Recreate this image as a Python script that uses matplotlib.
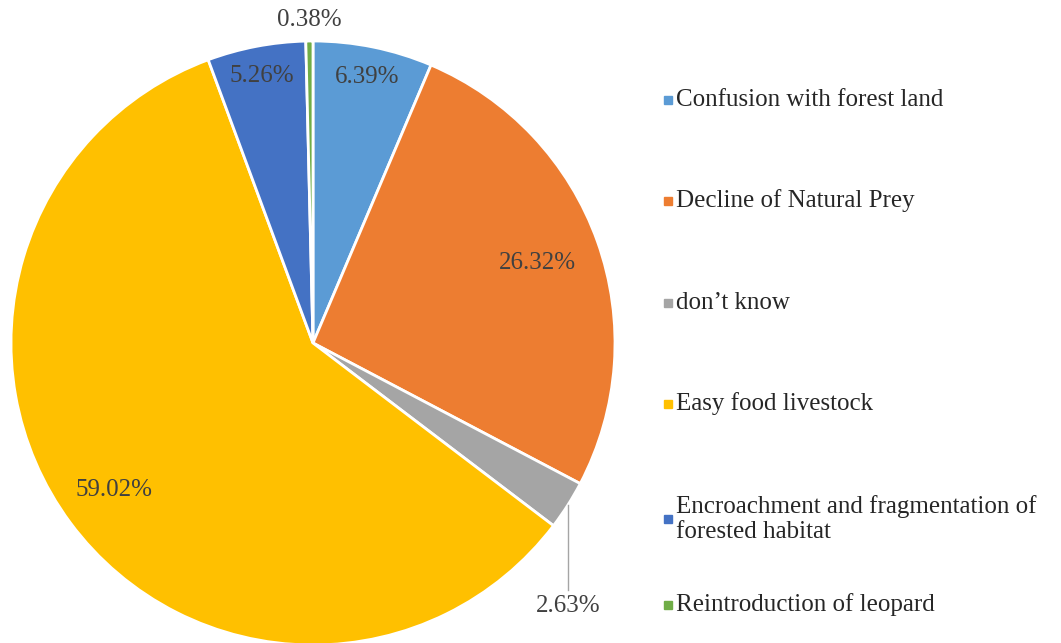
import numpy as np
import matplotlib.pyplot as plt

categories = ['Confusion with forest land', 'Decline of Natural Prey', 'don\u2019t know',
              'Easy food livestock', 'Encroachment and fragmentation of\nforested habitat',
              'Reintroduction of leopard']
shares = [6.39, 26.32, 2.63, 59.02, 5.26, 0.38]
colors = ['#5B9BD5', '#ED7D31', '#A5A5A5', '#FFC000', '#4472C4', '#70AD47']

plt.rcParams['font.family'] = ['Liberation Serif', 'DejaVu Serif']

fig = plt.figure(figsize=(10.61, 6.43), dpi=100)
ax = fig.add_axes([0, 0, 1, 1])

cx, cy, rad = 313, 643 - 343, 302
wedges, _ = ax.pie(shares, colors=colors, startangle=90, counterclock=False,
                   center=(cx, cy), radius=rad,
                   wedgeprops=dict(edgecolor='white', linewidth=2))
ax.set_xlim(0, 1061)
ax.set_ylim(0, 643)
ax.set_aspect('equal')
ax.axis('off')

# radial position of each label, as a fraction of the radius
label_dist = [0.9, 0.79, None, 0.82, 0.9, 1.07]
for w, val, d in zip(wedges, shares, label_dist):
    mid = np.deg2rad((w.theta1 + w.theta2) / 2)
    txt = f'{val:.2f}%'
    if d is None:
        # label below the slice with a leader line
        ex, ey = cx + rad * np.cos(mid), cy + rad * np.sin(mid)
        ax.plot([ex, ex], [ey, 643 - 590], color='#A5A5A5', lw=1)
        ax.text(ex, 643 - 606, txt, ha='center', va='center', fontsize=18, color='#404040')
        continue
    ax.text(cx + d * rad * np.cos(mid), cy + d * rad * np.sin(mid), txt,
            ha='center', va='center', fontsize=18, color='#404040')

# legend drawn by hand, entries like the Excel layout
legend_y = [100, 201, 303, 404, 519, 605]
for name, col, y in zip(categories, colors, legend_y):
    ax.plot(668, 643 - y, marker='s', markersize=6, color=col, linestyle='none')
    ax.text(676, 643 - y, name, ha='left', va='center', fontsize=18,
            color='#262626', linespacing=1.2)

fig.savefig('out.png', dpi=100)
